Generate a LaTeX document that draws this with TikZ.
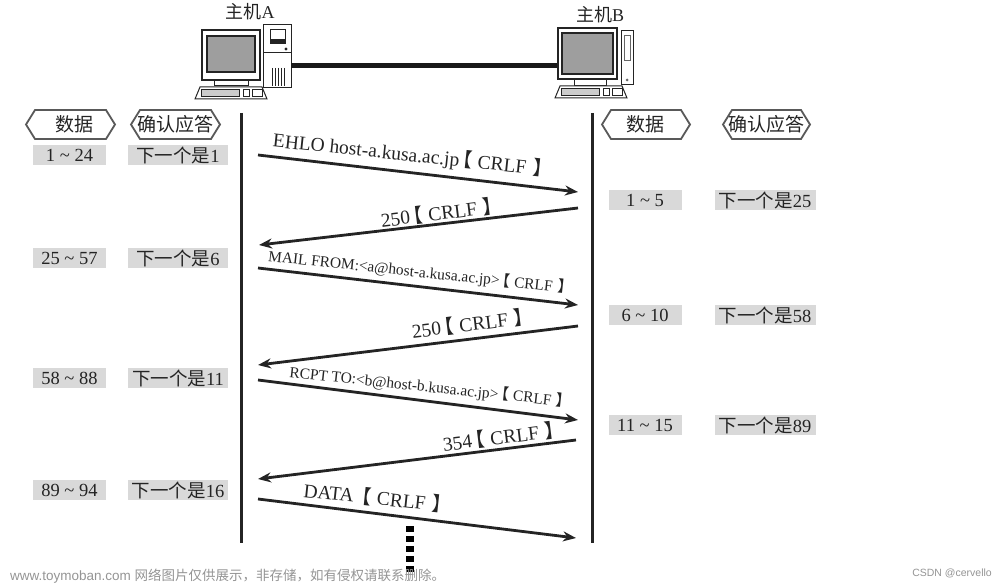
\documentclass[tikz,border=0pt]{standalone}
\usepackage{fontspec}
\setmainfont{Liberation Serif}
\newfontfamily\cjk{Noto Sans CJK SC}
\newfontfamily\cjkp[RawFeature=+palt]{Noto Sans CJK SC}
\newfontfamily\wm{Liberation Sans}
\usetikzlibrary{arrows.meta,calc}
\definecolor{ink}{gray}{0.14}
\definecolor{boxgray}{gray}{0.85}
\definecolor{screen}{gray}{0.62}
\definecolor{wmk}{gray}{0.58}
\tikzset{
  life/.style={line width=3pt,draw=ink},
  msg/.style={line width=2.8pt,draw=ink,-{Stealth[length=13pt,width=10pt]}},
  lab/.style={text=ink,font=\fontsize{19.5}{20}\selectfont,inner sep=0pt},
  smalllab/.style={lab,font=\fontsize{15.4}{16}\selectfont},
  tag/.style={fill=boxgray,text=ink,inner sep=0pt,minimum height=20pt,font=\fontsize{18.5}{19}\selectfont},
  datatag/.style={tag,minimum width=73pt},
  acktag/.style={tag,minimum width=101pt},
  hex/.style={draw=black!65,line width=1.8pt,fill=white},
  hextext/.style={text=ink,inner sep=0pt,font=\cjk\fontsize{19}{20}\selectfont},
  hosttext/.style={text=ink,inner sep=0pt,font=\fontsize{18}{19}\selectfont},
  pc/.style={draw=ink,line width=0.9pt,fill=white,inner sep=0pt},
  scr/.style={draw=ink,line width=1.2pt,fill=screen},
  thin/.style={draw=ink,line width=0.7pt,fill=white},
}
\newcommand{\hexa}[5]{% name, x1, x2, text, shift
  \draw[hex] (#2,124.5) -- (#2+9,110) -- (#3-9,110) -- (#3,124.5) -- (#3-9,139) -- (#2+9,139) -- cycle;
  \node[hextext] (#1) at ($(0.5*#2+0.5*#3,124.5)+(#5,0)$) {#4};
}
\newcommand{\kbd}[2]{% x, y
  \draw[thin,line width=1pt] (#1+5,#2) -- (#1+67,#2) -- (#1+72,#2+12) -- (#1,#2+12) -- cycle;
  \draw[thin,fill=black!20] (#1+6,#2+2.5) rectangle (#1+44,#2+9);
  \draw[thin] (#1+48,#2+2.5) rectangle (#1+54,#2+9);
  \draw[thin] (#1+57,#2+2.5) rectangle (#1+67,#2+9);
}
\newcommand{\crlf}{\kern0.15em{\cjkp 【}\kern0.3em CRLF\kern0.35em{\cjkp 】}}
\begin{document}
\begin{tikzpicture}[x=1pt,y=-1pt]
\useasboundingbox (0,0) rectangle (1000,585);

% hosts
\node[hosttext] (la) at (250,12) {{\cjk 主机}A};
\node[hosttext] (lb) at (600,15) {{\cjk 主机}B};

% host A tower
\node[pc,minimum width=28pt,minimum height=63pt] (towerA) at (277,55.5) {};
\draw[thin] (270,29) rectangle (285,43);
\fill[ink] (270,39) rectangle (285,43);
\draw[ink,line width=0.6pt] (263,52) -- (291,52);
\fill[ink] (286,49) circle (1.6pt);
\foreach \xx in {272,275,278,281,284}{\draw[ink,line width=0.6pt] (\xx,68) -- (\xx,86);}
% host A monitor
\draw[thin] (214,80) rectangle (248,85);
\fill[black!55] (216,77) rectangle (246,81);
\node[pc,line width=1.1pt,minimum width=58pt,minimum height=50pt] (monA) at (231,55) {};
\draw[scr] (207,36) rectangle (255,72);
\kbd{195}{87}

% host B tower
\draw[thin] (621,30) rectangle (633,84);
\draw[black!60,line width=0.6pt] (624,35) rectangle (630,60);
\fill[black!60] (627,80) circle (1.5pt);
% host B monitor
\draw[thin] (574,79) rectangle (606,85);
\fill[black!55] (576,76) rectangle (604,80);
\node[pc,line width=1.1pt,minimum width=59pt,minimum height=51pt] (monB) at (587.5,53.5) {};
\draw[scr] (562,33) rectangle (613,74);
\kbd{555}{86}

% cable
\draw[line width=5pt,draw=black!90] (towerA.east |- 0,65.5) -- (monB.west |- 0,65.5);

% column headings
\hexa{hd1}{26}{115}{数据}{4}
\hexa{ha1}{131}{220}{确认应答}{0}
\hexa{hd2}{602}{690}{数据}{-1}
\hexa{ha2}{723}{810}{确认应答}{0}

% lifelines
\coordinate (at) at (241,113); \coordinate (ab) at (241,543);
\coordinate (bt) at (592,113); \coordinate (bb) at (592,543);
\draw[life] (at) -- (ab);
\draw[life] (bt) -- (bb);

% message end points
\coordinate (a1) at (258,155);  \coordinate (b1) at (578,192);
\coordinate (b2) at (578,208);  \coordinate (a2) at (259,245);
\coordinate (a3) at (258,268);  \coordinate (b3) at (578,305);
\coordinate (b4) at (578,326);  \coordinate (a4) at (258,365);
\coordinate (a5) at (258,380);  \coordinate (b5) at (578,420);
\coordinate (b6) at (576,440);  \coordinate (a6) at (258,479);
\coordinate (a7) at (258,499);  \coordinate (b7) at (576,538);
\draw[msg] (a1) -- (b1);
\draw[msg] (b2) -- (a2);
\draw[msg] (a3) -- (b3);
\draw[msg] (b4) -- (a4);
\draw[msg] (a5) -- (b5);
\draw[msg] (b6) -- (a6);
\draw[msg] (a7) -- (b7);

% message labels
\node[lab,rotate=-6] (m1) at (408,155) {EHLO host-a.kusa.ac.jp\crlf};
\node[lab,rotate=7] (m2) at (437,213) {250\crlf};
\node[smalllab,rotate=-6] (m3) at (417,272) {MAIL FROM:<a@host-a.kusa.ac.jp>\crlf};
\node[lab,rotate=7] (m4) at (468,324) {250\crlf};
\node[smalllab,rotate=-6] (m5) at (427,387) {RCPT TO:<b@host-b.kusa.ac.jp>\crlf};
\node[lab,rotate=7] (m6) at (499,437) {354\crlf};
\node[lab,rotate=-6] (m7) at (373,497) {DATA\kern0.25em\crlf};

% data tags, left
\node[datatag] (d1) at (69.5,155) {1 \textasciitilde{} 24};
\node[acktag,minimum width=100pt] (k1) at (178,155) {{\cjk 下一个是}1};
\node[datatag] (d2) at (69.5,258) {25 \textasciitilde{} 57};
\node[acktag,minimum width=100pt] (k2) at (178,258) {{\cjk 下一个是}6};
\node[datatag] (d3) at (69.5,378) {58 \textasciitilde{} 88};
\node[acktag,minimum width=100pt] (k3) at (178,378) {{\cjk 下一个是}11};
\node[datatag] (d4) at (69.5,490) {89 \textasciitilde{} 94};
\node[acktag,minimum width=100pt] (k4) at (178,490) {{\cjk 下一个是}16};
% data tags, right
\node[datatag] (d5) at (645,200) {1 \textasciitilde{} 5};
\node[acktag] (k5) at (765,200) {{\cjk 下一个是}25};
\node[datatag] (d6) at (645,315) {6 \textasciitilde{} 10};
\node[acktag] (k6) at (765,315) {{\cjk 下一个是}58};
\node[datatag] (d7) at (645,425) {11 \textasciitilde{} 15};
\node[acktag] (k7) at (765,425) {{\cjk 下一个是}89};

% continuation
\foreach \yy in {526,536,546,556,566}{\fill[black] (405.5,\yy) rectangle (414,\yy+5.5);}

% watermarks
\node[anchor=west,inner sep=0pt,text=wmk,font=\wm\fontsize{13.5}{14}\selectfont] (w1) at (10,576) {www.toymoban.com {\cjk 网络图片仅供展示，非存储，如有侵权请联系删除。}};
\node[anchor=east,inner sep=0pt,text=wmk,font=\wm\fontsize{10.5}{11}\selectfont] (w2) at (992,573) {CSDN @cervello};
\end{tikzpicture}
\end{document}
